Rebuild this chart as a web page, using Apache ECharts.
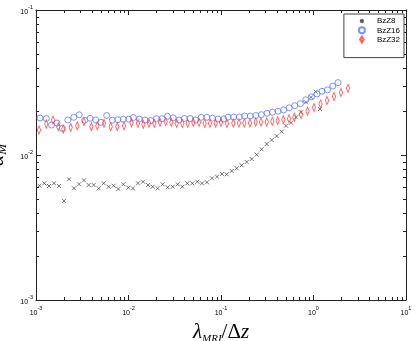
<!DOCTYPE html>
<html>
<head>
<meta charset="utf-8">
<script src="https://cdn.jsdelivr.net/npm/echarts@6/dist/echarts.min.js"></script>
<style>
  html, body { margin: 0; padding: 0; background: #fff; }
  #chart { width: 415px; height: 341px; }
</style>
</head>
<body>
<div id="chart"></div>
<script>
// BzZ8 (black crosses)
var bz8X = [1.09e-3, 1.23e-3, 1.382e-3, 1.565e-3, 1.773e-3, 2.008e-3, 2.274e-3, 2.575e-3, 2.917e-3, 3.303e-3,
  3.71e-3, 4.203e-3, 4.759e-3, 5.39e-3, 6.106e-3, 6.914e-3, 7.765e-3, 8.795e-3, 9.96e-3, 1.118e-2,
  1.266e-2, 1.435e-2, 1.625e-2, 1.825e-2, 2.068e-2, 2.341e-2, 2.651e-2, 3.003e-2, 3.401e-2, 3.818e-2,
  4.325e-2, 4.898e-2, 5.548e-2, 6.231e-2, 7.057e-2, 7.992e-2, 9.055e-2, 0.1025, 0.1152, 0.1305,
  0.1478, 0.1674, 0.1896, 0.2147, 0.2432, 0.2754, 0.3119, 0.3533, 0.4001, 0.4532,
  0.5044, 0.5713, 0.647, 0.7328, 0.8297, 0.9397, 1.056, 1.176];
var bz8Y = [6.14e-3, 6.38e-3, 6.11e-3, 6.38e-3, 6.11e-3, 4.82e-3, 6.80e-3, 5.89e-3, 6.28e-3, 6.69e-3,
  6.21e-3, 6.21e-3, 5.89e-3, 6.38e-3, 6.04e-3, 6.14e-3, 5.83e-3, 6.28e-3, 5.95e-3, 5.89e-3,
  6.38e-3, 6.54e-3, 6.21e-3, 6.04e-3, 5.89e-3, 6.28e-3, 5.99e-3, 6.04e-3, 6.28e-3, 6.04e-3,
  6.38e-3, 6.38e-3, 6.54e-3, 6.38e-3, 6.48e-3, 6.91e-3, 7.08e-3, 7.40e-3, 7.36e-3, 7.76e-3,
  8.10e-3, 8.49e-3, 8.95e-3, 9.38e-3, 1.005e-2, 1.095e-2, 1.191e-2, 1.269e-2, 1.352e-2, 1.448e-2,
  1.592e-2, 1.670e-2, 1.820e-2, 1.970e-2, 2.309e-2, 2.500e-2, 2.733e-2, 2.076e-2];

// BzZ16 (blue circles)
var bz16X = [1.105e-3, 1.292e-3, 1.471e-3, 1.687e-3, 1.924e-3, 2.207e-3, 2.562e-3, 2.931e-3, 3.362e-3, 3.854e-3,
  4.419e-3, 5.043e-3, 5.811e-3, 6.682e-3, 7.661e-3, 8.786e-3, 1.007e-2, 1.127e-2, 1.308e-2, 1.508e-2,
  1.738e-2, 1.998e-2, 2.302e-2, 2.64e-2, 3.042e-2, 3.498e-2, 4.021e-2, 4.624e-2, 5.315e-2, 6.109e-2,
  7.023e-2, 8.093e-2, 9.281e-2, 0.107, 0.1191, 0.1369, 0.1577, 0.1804, 0.2074, 0.2379,
  0.2727, 0.3143, 0.3605, 0.4132, 0.4752, 0.5462, 0.6264, 0.7201, 0.8258, 0.949,
  1.091, 1.236, 1.417, 1.617, 1.84];
var bz16Y = [1.800e-2, 1.785e-2, 1.610e-2, 1.662e-2, 1.528e-2, 1.744e-2, 1.820e-2, 1.894e-2, 1.735e-2, 1.791e-2,
  1.744e-2, 1.680e-2, 1.873e-2, 1.738e-2, 1.752e-2, 1.766e-2, 1.766e-2, 1.814e-2, 1.771e-2, 1.744e-2,
  1.729e-2, 1.780e-2, 1.780e-2, 1.849e-2, 1.805e-2, 1.744e-2, 1.785e-2, 1.785e-2, 1.744e-2, 1.820e-2,
  1.820e-2, 1.794e-2, 1.771e-2, 1.771e-2, 1.823e-2, 1.828e-2, 1.828e-2, 1.858e-2, 1.858e-2, 1.873e-2,
  1.897e-2, 1.940e-2, 1.973e-2, 2.005e-2, 2.044e-2, 2.116e-2, 2.188e-2, 2.259e-2, 2.403e-2, 2.520e-2,
  2.634e-2, 2.750e-2, 2.816e-2, 2.990e-2, 3.157e-2];

// BzZ32 (red diamonds)
var bz32X = [1.077e-3, 1.292e-3, 1.527e-3, 1.742e-3, 1.973e-3, 2.372e-3, 2.796e-3, 3.303e-3, 3.962e-3, 4.599e-3,
  5.433e-3, 6.423e-3, 7.567e-3, 8.943e-3, 1.077e-2, 1.266e-2, 1.445e-2, 1.666e-2, 1.901e-2, 2.19e-2,
  2.525e-2, 2.901e-2, 3.319e-2, 3.815e-2, 4.365e-2, 5.017e-2, 5.783e-2, 6.665e-2, 7.603e-2, 8.765e-2,
  0.1, 0.1161, 0.1358, 0.1565, 0.1786, 0.2058, 0.2372, 0.2706, 0.3119, 0.3587,
  0.4102, 0.4716, 0.5434, 0.6199, 0.7328, 0.8613, 1.013, 1.19, 1.399, 1.666,
  1.983, 2.36];
var bz32Y = [1.487e-2, 1.636e-2, 1.744e-2, 1.568e-2, 1.511e-2, 1.552e-2, 1.592e-2, 1.697e-2, 1.568e-2, 1.592e-2,
  1.654e-2, 1.568e-2, 1.568e-2, 1.592e-2, 1.668e-2, 1.654e-2, 1.628e-2, 1.654e-2, 1.654e-2, 1.680e-2,
  1.697e-2, 1.680e-2, 1.654e-2, 1.654e-2, 1.654e-2, 1.680e-2, 1.680e-2, 1.654e-2, 1.654e-2, 1.654e-2,
  1.680e-2, 1.649e-2, 1.662e-2, 1.662e-2, 1.662e-2, 1.662e-2, 1.689e-2, 1.689e-2, 1.689e-2, 1.708e-2,
  1.724e-2, 1.752e-2, 1.780e-2, 1.820e-2, 1.903e-2, 2.011e-2, 2.126e-2, 2.248e-2, 2.376e-2, 2.532e-2,
  2.698e-2, 2.884e-2];

// minor tick positions (2..9 in each decade)
var xMinor = [2e-3, 3e-3, 4e-3, 5e-3, 6e-3, 7e-3, 8e-3, 9e-3,
  2e-2, 3e-2, 4e-2, 5e-2, 6e-2, 7e-2, 8e-2, 9e-2,
  0.2, 0.3, 0.4, 0.5, 0.6, 0.7, 0.8, 0.9,
  2, 3, 4, 5, 6, 7, 8, 9];
var yMinor = [2e-3, 3e-3, 4e-3, 5e-3, 6e-3, 7e-3, 8e-3, 9e-3,
  2e-2, 3e-2, 4e-2, 5e-2, 6e-2, 7e-2, 8e-2, 9e-2];

var chart = echarts.init(document.getElementById('chart'));

function pow10(v) {
  var e = Math.round(Math.log(v) / Math.LN10);
  return '{b|10}{e|' + e + '}';
}
var tickRich = {
  b: { fontSize: 7, fontFamily: 'Liberation Sans', color: '#000', lineHeight: 12, verticalAlign: 'bottom' },
  e: { fontSize: 5.5, fontFamily: 'Liberation Sans', color: '#000', lineHeight: 7, verticalAlign: 'top' }
};
var lineCol = '#222';

function logAxis(pos, extra) {
  var vert = pos == 'left' || pos == 'right';
  var ax = {
    type: 'log', logBase: 10, position: pos,
    min: 1e-3,
    max: vert ? 1e-1 : 10,
    axisLine: { show: true, lineStyle: { color: lineCol, width: 1 } },
    axisTick: { show: true, inside: true, length: 5, lineStyle: { color: lineCol } },
    axisLabel: { show: false },
    splitLine: { show: false },
    minorTick: { show: false }
  };
  for (var k in extra) ax[k] = extra[k];
  return ax;
}

// small inward ticks between the decades, placed through the axes' own scale
function minorTicks(params, api) {
  var cs = params.coordSys;
  var horiz = api.value(2) == 0;
  var p = api.coord([api.value(0), api.value(1)]);
  var st = { stroke: lineCol, lineWidth: 1, fill: null };
  if (horiz) {
    var x = Math.round(p[0]) + 0.5;
    var yb = cs.y + cs.height, yt = cs.y;
    return { type: 'group', children: [
      { type: 'line', shape: { x1: x, y1: yb, x2: x, y2: yb - 3 }, style: st },
      { type: 'line', shape: { x1: x, y1: yt, x2: x, y2: yt + 3 }, style: st }
    ] };
  }
  var y = Math.round(p[1]) + 0.5;
  var xl = cs.x, xr = cs.x + cs.width;
  return { type: 'group', children: [
    { type: 'line', shape: { x1: xl, y1: y, x2: xl + 3, y2: y }, style: st },
    { type: 'line', shape: { x1: xr, y1: y, x2: xr - 3, y2: y }, style: st }
  ] };
}
var tickData = xMinor.map(function (v) { return [v, 1e-2, 0]; })
  .concat(yMinor.map(function (v) { return [1e-2, v, 1]; }));

var option = {
  animation: false,
  backgroundColor: '#fff',
  grid: { left: 36, right: 9, top: 10, bottom: 41, outerBoundsMode: 'none', containLabel: false },
  legend: {
    orient: 'vertical',
    right: 11, top: 14,
    padding: [3, 4, 14, 14],
    itemGap: 1.3,
    itemWidth: 6, itemHeight: 6,
    borderColor: '#444', borderWidth: 1, borderRadius: 0,
    backgroundColor: '#fff',
    textStyle: { fontSize: 8, fontFamily: 'Liberation Sans', color: '#000', padding: [0, 0, 0, 7] },
    data: ['BzZ8', 'BzZ16', 'BzZ32']
  },
  xAxis: [
    logAxis('bottom', {
      axisLabel: { show: true, margin: 5, formatter: pow10, rich: tickRich },
      name: '{i|λ}{s|MRI}{n|/Δ}{i|z}',
      nameLocation: 'middle', nameGap: 17,
      nameTextStyle: {
        rich: {
          i: { fontSize: 21, fontFamily: 'Liberation Serif', fontStyle: 'italic', color: '#000', lineHeight: 24 },
          s: { fontSize: 11, fontFamily: 'Liberation Serif', fontStyle: 'italic', color: '#000', lineHeight: 12, verticalAlign: 'bottom' },
          n: { fontSize: 21, fontFamily: 'Liberation Serif', color: '#000', lineHeight: 24 }
        }
      }
    }),
    logAxis('top', {})
  ],
  yAxis: [
    logAxis('left', {
      axisLabel: { show: true, margin: 3, formatter: pow10, rich: tickRich },
      name: '{i|α}{s|M}',
      nameLocation: 'middle', nameGap: 18,
      nameTextStyle: {
        rich: {
          i: { fontSize: 22, fontFamily: 'Liberation Serif', fontStyle: 'italic', color: '#000', lineHeight: 24 },
          s: { fontSize: 13, fontFamily: 'Liberation Serif', fontStyle: 'italic', color: '#000', lineHeight: 12, verticalAlign: 'bottom' }
        }
      }
    }),
    logAxis('right', {})
  ],
  series: [
    {
      type: 'custom', silent: true, xAxisIndex: 0, yAxisIndex: 0,
      renderItem: minorTicks, data: tickData, z: 1
    },
    {
      name: 'BzZ8', type: 'scatter',
      symbol: 'path://M-5,-5M0,0L10,10M10,0L0,10M15,15', symbolSize: 8, symbolKeepAspect: true,
      itemStyle: { color: 'transparent', borderColor: '#2a2a2a', borderWidth: 0.8 },
      data: bz8X.map(function (x, i) { return [x, bz8Y[i]]; })
    },
    {
      name: 'BzZ16', type: 'scatter',
      symbol: 'circle', symbolSize: 6,
      itemStyle: { color: 'transparent', borderColor: '#6079ff', borderWidth: 1 },
      data: bz16X.map(function (x, i) { return [x, bz16Y[i]]; })
    },
    {
      name: 'BzZ32', type: 'scatter',
      symbol: 'path://M3,0L6,5L3,10L0,5Z', symbolSize: [5.5, 8], symbolKeepAspect: true,
      itemStyle: { color: 'transparent', borderColor: '#ff3a3a', borderWidth: 1 },
      data: bz32X.map(function (x, i) { return [x, bz32Y[i]]; })
    }
  ]
};
chart.setOption(option);
</script>
</body>
</html>
